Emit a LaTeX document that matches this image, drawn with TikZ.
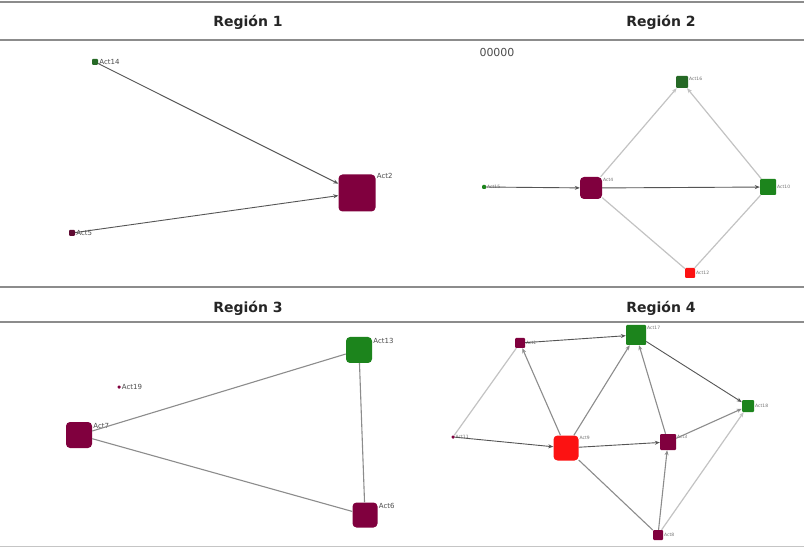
\documentclass[tikz,border=0pt]{standalone}
\usepackage{fontspec}
\setmainfont{DejaVu Sans}
\usetikzlibrary{arrows.meta}

\definecolor{actmaroon}{RGB}{128,0,62}
\definecolor{actdkmaroon}{RGB}{95,10,50}
\definecolor{actgreen}{RGB}{28,132,28}
\definecolor{actdkgreen}{RGB}{38,105,38}
\definecolor{actred}{RGB}{252,18,18}
\definecolor{rulegray}{RGB}{140,140,140}
\definecolor{edgedark}{RGB}{85,85,85}
\definecolor{edgemid}{RGB}{140,140,140}
\definecolor{edgelight}{RGB}{195,195,195}

\tikzset{
  hdr/.style={font=\bfseries\fontsize{14}{16}\selectfont, text=black!85, inner sep=0pt},
  rulel/.style={draw=rulegray, line width=1.3pt},
  act/.style={rectangle, inner sep=0pt, minimum size=#1, rounded corners=1pt},
  bigact/.style={rectangle, inner sep=0pt, minimum size=#1, rounded corners=4pt},
  lbl/.style={font=\fontsize{7}{8}\selectfont, text=black!70, inner sep=1pt},
  tlbl/.style={font=\fontsize{4.5}{5}\selectfont, text=black!55, inner sep=0.8pt},
  tip/.style={-{Stealth[length=5pt,width=4pt]}},
  edark/.style={draw=edgedark, line width=0.9pt},
  emid/.style={draw=edgemid, line width=1.1pt},
  elight/.style={draw=edgelight, line width=1.2pt},
}

\begin{document}
\begin{tikzpicture}[x=1pt,y=-1pt]
  \useasboundingbox (0,0) rectangle (804,548);
  \fill[white] (0,0) rectangle (804,548);

  % panel rules and headings
  \draw[rulel] (0,2) -- (804,2);
  \draw[rulel] (0,40) -- (804,40);
  \draw[rulel] (0,287) -- (804,287);
  \draw[rulel] (0,322) -- (804,322);
  \draw[draw=rulegray!50, line width=1pt] (0,546) -- (804,546);
  \node[hdr] (h1) at (248,22) {Región 1};
  \node[hdr] (h2) at (661,22) {Región 2};
  \node[hdr] (h3) at (248,308) {Región 3};
  \node[hdr] (h4) at (661,308) {Región 4};

  % ---------------- Región 1
  \node[act=6pt, fill=actdkgreen] (a14) at (95,62) {};
  \node[lbl, anchor=west] (a14l) at (a14.east) {Act14};
  \node[act=6pt, fill=actdkmaroon] (a5) at (72,233) {};
  \node[lbl, anchor=west] (a5l) at (a5.east) {Act5};
  \node[bigact=37pt, fill=actmaroon] (a2) at (357,193) {};
  \node[lbl, anchor=north west] (a2l) at ([yshift=2pt]a2.north east) {Act2};
  \draw[edark, tip] (a14) -- (a2);
  \draw[edark, tip] (a5) -- (a2);

  % ---------------- Región 2
  \node[font=\fontsize{11}{12}\selectfont, text=black!70, inner sep=0pt] (zeros) at (497,52) {00000};
  \node[act=4pt, fill=actgreen] (a15) at (484,187) {};
  \node[tlbl, anchor=west] (a15l) at (a15.east) {Act15};
  \node[bigact=22pt, fill=actmaroon] (a4) at (591,188) {};
  \node[tlbl, anchor=north west] (a4l) at (a4.north east) {Act4};
  \node[act=12pt, fill=actdkgreen] (a16) at (682,82) {};
  \node[tlbl, anchor=north west] (a16l) at (a16.north east) {Act16};
  \node[act=16pt, fill=actgreen] (a10) at (768,187) {};
  \node[tlbl, anchor=west] (a10l) at (a10.east) {Act10};
  \node[act=10pt, fill=actred] (a12) at (690,273) {};
  \node[tlbl, anchor=west] (a12l) at (a12.east) {Act12};
  \draw[edark, tip] (a15) -- (a4);
  \draw[edark, tip] (a4) -- (a10);
  \draw[elight, tip] (a4) -- (a16);
  \draw[elight, tip] (a10) -- (a16);
  \draw[elight] (a4) -- (a12);
  \draw[elight] (a12) -- (a10);

  % ---------------- Región 3
  \node[act=3pt, fill=actmaroon] (a19) at (119,387) {};
  \node[lbl, anchor=west] (a19l) at (a19.east) {Act19};
  \node[bigact=26pt, fill=actmaroon] (a7) at (79,435) {};
  \node[lbl, anchor=north west] (a7l) at (a7.north east) {Act7};
  \node[bigact=26pt, fill=actgreen] (a13) at (359,350) {};
  \node[lbl, anchor=north west] (a13l) at (a13.north east) {Act13};
  \node[bigact=25pt, fill=actmaroon] (a6) at (365,515) {};
  \node[lbl, anchor=north west] (a6l) at (a6.north east) {Act6};
  \draw[emid] (a7) -- (a13);
  \draw[emid] (a7) -- (a6);
  \draw[emid] (a13) -- (a6);

  % ---------------- Región 4
  \node[act=10pt, fill=actmaroon] (a1) at (520,343) {};
  \node[tlbl, anchor=west] (a1l) at (a1.east) {Act1};
  \node[act=20pt, fill=actgreen] (a17) at (636,335) {};
  \node[tlbl, anchor=north west] (a17l) at (a17.north east) {Act17};
  \node[act=3pt, fill=actmaroon] (a11) at (453,437) {};
  \node[tlbl, anchor=west] (a11l) at (a11.east) {Act11};
  \node[bigact=25pt, fill=actred] (a9) at (566,448) {};
  \node[tlbl, anchor=north west] (a9l) at (a9.north east) {Act9};
  \node[act=16pt, fill=actmaroon] (a3) at (668,442) {};
  \node[tlbl, anchor=north west] (a3l) at (a3.north east) {Act3};
  \node[act=12pt, fill=actgreen] (a18) at (748,406) {};
  \node[tlbl, anchor=west] (a18l) at (a18.east) {Act18};
  \node[act=10pt, fill=actmaroon] (a8) at (658,535) {};
  \node[tlbl, anchor=west] (a8l) at (a8.east) {Act8};
  \draw[edark, tip] (a1) -- (a17);
  \draw[elight] (a1) -- (a11);
  \draw[emid, tip] (a9) -- (a1);
  \draw[edark, tip] (a11) -- (a9);
  \draw[emid, tip] (a9) -- (a17);
  \draw[edark, tip] (a9) -- (a3);
  \draw[emid] (a9) -- (a8);
  \draw[emid, tip] (a3) -- (a17);
  \draw[edark, tip] (a17) -- (a18);
  \draw[emid, tip] (a3) -- (a18);
  \draw[emid, tip] (a8) -- (a3);
  \draw[elight, tip] (a8) -- (a18);
\end{tikzpicture}
\end{document}
